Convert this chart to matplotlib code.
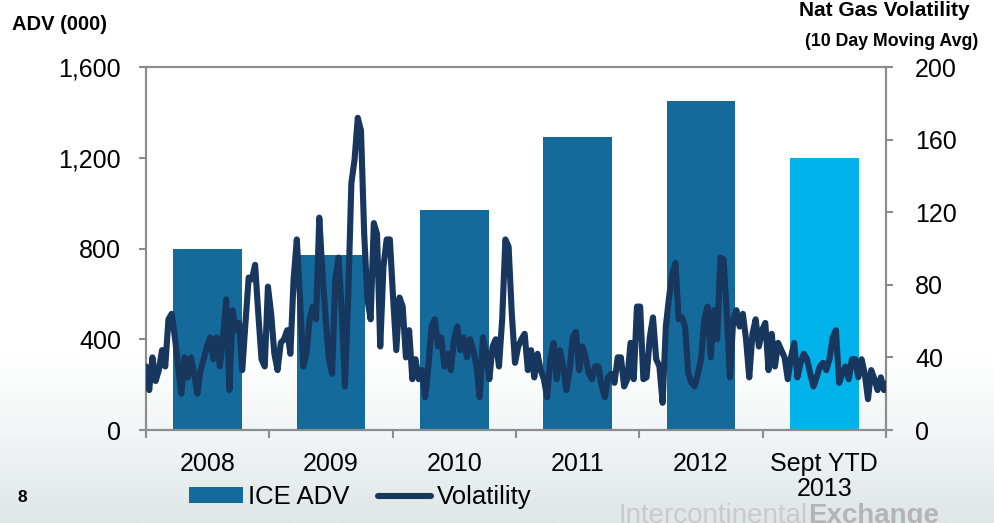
import numpy as np
import matplotlib
matplotlib.use("Agg")
from matplotlib import pyplot as plt
from matplotlib import ticker
from matplotlib.colors import LinearSegmentedColormap

plt.rcParams['font.family'] = ['Liberation Sans', 'DejaVu Sans']

# ICE natural gas average daily volume (thousands of contracts)
years = ['2008', '2009', '2010', '2011', '2012', 'Sept YTD\n2013']
ice_adv = [800, 770, 970, 1290, 1450, 1200]

# Nat gas volatility, 10 day moving average, sampled across 2008 - Sept 2013
vol_2008 = [35, 22, 40, 27, 33, 44, 35, 61, 64, 51, 35, 20, 40, 29, 40, 31, 20, 33, 39,
            46, 51, 39, 51, 35, 51, 72, 22, 66, 55, 59, 33, 59, 84, 83, 91, 64, 39]
vol_2009 = [35, 79, 64, 42, 33, 48, 50, 55, 42, 83, 105, 72, 35, 42, 61, 68, 61, 117, 86,
            61, 39, 31, 83, 95, 66, 24, 72, 136, 149, 172, 165, 108, 72, 61, 114, 108, 46,
            90, 105]
vol_2010 = [105, 73, 44, 73, 68, 40, 55, 28, 39, 28, 33, 18, 35, 57, 61, 46, 51, 35, 42,
            33, 50, 57, 44, 51, 40, 50, 44, 35, 18, 51, 42, 28, 46, 50, 35, 61, 105, 101, 64]
vol_2011 = [37, 46, 50, 53, 33, 44, 29, 42, 33, 28, 18, 39, 48, 28, 44, 35, 22, 33, 51,
            54, 33, 46, 40, 31, 28, 35, 35, 24, 18, 29, 31, 26, 40, 40, 24, 28, 48, 28, 68]
vol_2012 = [68, 28, 29, 51, 62, 39, 35, 15, 57, 73, 86, 92, 61, 62, 57, 31, 26, 24, 31,
            39, 61, 68, 40, 66, 50, 95, 94, 64, 29, 61, 66, 57, 64, 50, 29, 53, 61, 46, 55]
vol_2013 = [59, 33, 53, 35, 48, 44, 40, 28, 40, 48, 29, 37, 42, 39, 31, 24, 29, 35, 37,
            33, 39, 51, 55, 26, 31, 35, 28, 39, 39, 29, 39, 31, 17, 33, 28, 22, 29, 22, 26]
volatility = vol_2008 + vol_2009 + vol_2010 + vol_2011 + vol_2012 + vol_2013

BAR = '#156a9c'
BAR_YTD = '#00b2ea'
LINE = '#17375e'
SPINE = '#8c8c8c'

W, H = 994, 523
fig = plt.figure(figsize=(W / 100, H / 100), dpi=100)

# slide background: white fading to a pale grey-green at the bottom
bg = fig.add_axes([0, 0, 1, 1], zorder=-5)
grad_cmap = LinearSegmentedColormap.from_list(
    'slide', [(0, '#ffffff'), (0.68, '#ffffff'), (0.82, '#f3f6f6'), (1, '#dfe6e6')])
bg.imshow(np.linspace(0, 1, 256)[:, None], aspect='auto', cmap=grad_cmap,
          extent=[0, 1, 0, 1], origin='upper')
bg.set_axis_off()

ax = fig.add_axes([146 / W, (H - 430) / H, 740 / W, 363 / H])
ax.patch.set_alpha(0)
x = np.arange(len(years))
colors = [BAR] * (len(years) - 1) + [BAR_YTD]
bars = ax.bar(x, ice_adv, width=0.555, color=colors, label='ICE ADV', zorder=2)
ax.set_xlim(-0.5, len(years) - 0.5)
ax.set_ylim(0, 1600)
ax.yaxis.set_major_locator(ticker.MultipleLocator(400))
ax.yaxis.set_major_formatter(ticker.StrMethodFormatter('{x:,.0f}'))
ax.set_xticks(x)
ax.set_xticklabels(years, fontsize=18, linespacing=1.05)
ax.xaxis.set_minor_locator(ticker.FixedLocator(np.arange(-0.5, len(years), 1)))
ax.tick_params(axis='x', which='major', length=0, pad=16)
ax.tick_params(axis='x', which='minor', length=6, width=1.5, color=SPINE)
ax.tick_params(axis='y', labelsize=18, length=5, width=1.5, color=SPINE, pad=13)

ax2 = ax.twinx()
tx = np.linspace(-0.5, len(years) - 0.49, len(volatility))
line, = ax2.plot(tx, volatility, color=LINE, lw=4.4, solid_joinstyle='round',
                 solid_capstyle='round', label='Volatility', zorder=3)
ax2.set_ylim(0, 200)
ax2.yaxis.set_major_locator(ticker.MultipleLocator(40))
ax2.tick_params(axis='y', labelsize=18, length=5, width=1.5, color=SPINE, pad=16)

for a in (ax, ax2):
    for s in a.spines.values():
        s.set_color(SPINE)
        s.set_linewidth(1.5)

fig.text(12 / W, 1 - 25 / H, 'ADV (000)', fontsize=14.5, fontweight='bold',
         ha='left', va='center')
fig.text(970 / W, 1 - 10 / H, 'Nat Gas Volatility', fontsize=15, fontweight='bold',
         ha='right', va='center')
fig.text(978 / W, 1 - 42 / H, '(10 Day Moving Avg)', fontsize=12.8, fontweight='bold',
         ha='right', va='center')
fig.text(22 / W, 1 - 498 / H, '8', fontsize=12.5, fontweight='bold',
         ha='center', va='center')

fig.legend(handles=[bars, line], labels=['ICE ADV', 'Volatility'],
           loc='center', bbox_to_anchor=(360 / W, 1 - 497 / H), ncol=2,
           frameon=False, fontsize=18.5, handlelength=2.1, handleheight=0.55,
           handletextpad=0.2, columnspacing=1.1)

# company wordmark along the bottom edge
fig.text(808 / W, 1 - 503 / H, 'Intercontinental', fontsize=20, color='#cacaca',
         ha='right', va='top')
fig.text(808 / W, 1 - 503 / H, 'Exchange', fontsize=20, color='#b4b4b4',
         fontweight='bold', ha='left', va='top')

fig.savefig('out.png', dpi=100)
